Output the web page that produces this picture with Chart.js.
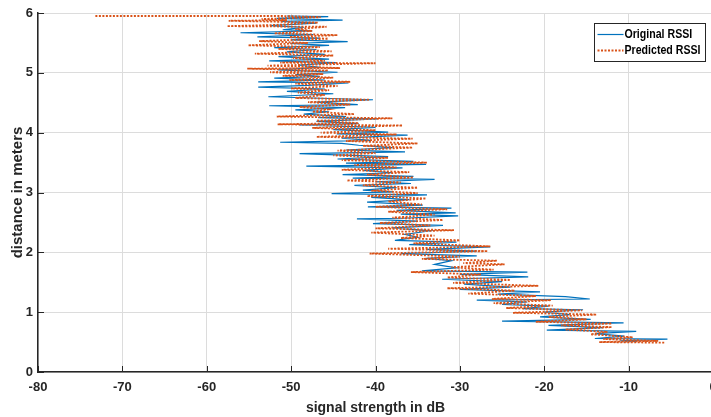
<!DOCTYPE html>
<html>
<head>
<meta charset="utf-8">
<title>RSSI vs distance</title>
<script src="https://cdn.jsdelivr.net/npm/chart.js@4.4.0/dist/chart.umd.min.js"></script>
<style>
  html, body { margin: 0; padding: 0; background: #fff; overflow: hidden; }
  #wrap { width: 720px; height: 417px; }
</style>
</head>
<body>
<div id="wrap"><canvas id="rssiChart" width="720" height="417"></canvas></div>
<script>
// Data (distance in m, RSSI in dB)
const seriesLabels = ['Original RSSI', 'Predicted RSSI'];

const originalDist = [
  5.95, 5.94, 5.91, 5.88, 5.86, 5.83, 5.79, 5.76, 5.72, 5.70,
  5.67, 5.64, 5.60, 5.58, 5.55, 5.52, 5.49, 5.46, 5.42, 5.39,
  5.35, 5.31, 5.27, 5.23, 5.20, 5.17, 5.13, 5.09, 5.05, 5.01,
  4.97, 4.94, 4.91, 4.88, 4.85, 4.83, 4.79, 4.76, 4.73, 4.69,
  4.65, 4.60, 4.55, 4.51, 4.47, 4.45, 4.42, 4.38, 4.35, 4.31,
  4.27, 4.25, 4.23, 4.19, 4.15, 4.13, 4.09, 4.05, 4.01, 3.98,
  3.96, 3.91, 3.87, 3.84, 3.82, 3.79, 3.75, 3.71, 3.68, 3.65,
  3.62, 3.60, 3.56, 3.52, 3.49, 3.47, 3.44, 3.41, 3.37, 3.33,
  3.30, 3.27, 3.24, 3.22, 3.18, 3.15, 3.12, 3.08, 3.04, 3.01,
  2.98, 2.96, 2.92, 2.88, 2.84, 2.79, 2.76, 2.74, 2.70, 2.66,
  2.64, 2.61, 2.57, 2.56, 2.52, 2.48, 2.45, 2.41, 2.36, 2.30,
  2.25, 2.20, 2.17, 2.13, 2.09, 2.05, 2.02, 1.98, 1.94, 1.90,
  1.86, 1.80, 1.74, 1.69, 1.67, 1.63, 1.59, 1.55, 1.51, 1.47,
  1.42, 1.38, 1.34, 1.30, 1.26, 1.22, 1.20, 1.17, 1.13, 1.10,
  1.06, 1.04, 1.00, 0.96, 0.92, 0.88, 0.85, 0.82, 0.78, 0.74,
  0.70, 0.68, 0.64, 0.60, 0.56, 0.55, 0.52, 0.51
];
const originalRssi = [
  -50.5, -45.6, -51.7, -43.9, -51.2, -47.0, -52.5, -48.5, -51.0, -47.5,
  -56.0, -47.4, -54.0, -46.6, -50.0, -43.3, -50.1, -45.5, -52.0, -47.0,
  -50.5, -46.0, -51.5, -45.5, -52.6, -44.7, -49.0, -46.5, -51.5, -44.5,
  -49.5, -46.6, -52.0, -46.0, -53.9, -43.2, -48.0, -53.9, -46.0, -50.5,
  -45.0, -52.7, -40.3, -47.0, -42.1, -52.6, -43.6, -49.5, -45.5, -48.5,
  -43.5, -46.8, -39.8, -47.0, -42.0, -49.0, -40.0, -45.0, -38.5, -44.6,
  -36.2, -44.0, -40.5, -51.3, -44.0, -42.0, -38.0, -43.5, -36.5, -49.0,
  -42.8, -38.5, -44.5, -35.5, -43.5, -34.0, -48.2, -36.8, -41.5, -38.0,
  -43.9, -35.5, -42.7, -33.0, -40.0, -35.8, -42.5, -37.5, -41.5, -38.0,
  -45.2, -33.9, -40.5, -36.0, -41.0, -34.4, -40.9, -31.0, -37.5, -30.5,
  -37.0, -30.2, -36.8, -42.2, -35.0, -40.3, -32.0, -38.0, -33.5, -36.5,
  -35.0, -37.7, -30.4, -36.0, -26.4, -34.0, -28.0, -37.0, -28.0, -34.0,
  -31.0, -33.0, -30.4, -34.5, -22.0, -30.0, -21.9, -32.1, -25.0, -29.5,
  -24.0, -30.0, -20.5, -25.5, -17.5, -14.6, -28.0, -22.0, -25.0, -19.5,
  -22.5, -15.4, -20.0, -17.0, -20.5, -14.5, -25.0, -10.6, -19.5, -13.0,
  -19.7, -9.1, -14.0, -10.5, -14.0, -5.4, -11.0, -9.0
];

const predictedDist = [
  5.95, 5.95, 5.93, 5.90, 5.88, 5.87, 5.84, 5.80, 5.78, 5.77,
  5.73, 5.70, 5.66, 5.63, 5.60, 5.57, 5.53, 5.50, 5.46, 5.43,
  5.40, 5.36, 5.32, 5.29, 5.25, 5.20, 5.17, 5.16, 5.12, 5.08,
  5.07, 5.04, 5.01, 4.98, 4.95, 4.92, 4.88, 4.85, 4.82, 4.78,
  4.74, 4.71, 4.67, 4.63, 4.58, 4.55, 4.51, 4.47, 4.43, 4.39,
  4.35, 4.31, 4.27, 4.24, 4.20, 4.16, 4.14, 4.12, 4.08, 4.04,
  4.00, 3.97, 3.93, 3.90, 3.86, 3.82, 3.78, 3.75, 3.70, 3.66,
  3.62, 3.58, 3.54, 3.50, 3.46, 3.42, 3.38, 3.34, 3.30, 3.25,
  3.20, 3.17, 3.12, 3.08, 3.03, 2.99, 2.94, 2.90, 2.85, 2.80,
  2.76, 2.72, 2.68, 2.63, 2.58, 2.54, 2.49, 2.45, 2.40, 2.37,
  2.33, 2.28, 2.24, 2.20, 2.15, 2.10, 2.06, 2.02, 1.98, 1.93,
  1.89, 1.86, 1.82, 1.80, 1.75, 1.71, 1.67, 1.63, 1.58, 1.54,
  1.49, 1.44, 1.40, 1.36, 1.31, 1.27, 1.22, 1.20, 1.15, 1.11,
  1.07, 1.03, 0.99, 0.96, 0.92, 0.88, 0.84, 0.81, 0.78, 0.75,
  0.71, 0.67, 0.63, 0.58, 0.55, 0.52, 0.50, 0.49
];
const predictedRssi = [
  -73.2, -51.0, -46.5, -53.5, -50.5, -57.4, -46.8, -52.0, -57.6, -45.8,
  -49.5, -47.5, -52.0, -44.5, -50.2, -45.6, -53.8, -48.0, -55.1, -46.6,
  -51.5, -45.2, -54.3, -45.0, -49.8, -46.0, -51.3, -40.0, -52.8, -44.2,
  -55.2, -45.6, -52.5, -46.2, -51.0, -45.0, -50.2, -43.0, -49.5, -44.5,
  -50.0, -45.5, -49.2, -46.0, -49.5, -40.7, -48.0, -43.0, -49.0, -45.6,
  -47.5, -42.5, -51.7, -38.0, -47.0, -42.0, -51.6, -36.8, -47.5, -40.0,
  -46.5, -37.5, -47.0, -35.6, -43.5, -35.0, -41.5, -35.6, -44.5, -40.0,
  -45.0, -38.5, -44.0, -33.9, -42.5, -37.5, -44.0, -36.0, -41.0, -35.5,
  -43.4, -37.0, -41.5, -35.0, -40.5, -35.0, -41.0, -34.0, -38.5, -34.5,
  -40.0, -31.5, -38.5, -33.0, -38.0, -32.0, -39.5, -33.5, -40.0, -30.7,
  -40.5, -33.0, -37.0, -30.0, -35.5, -26.4, -38.5, -26.7, -40.7, -30.0,
  -34.5, -25.6, -29.6, -24.7, -31.0, -26.0, -35.8, -27.5, -31.5, -24.0,
  -30.8, -20.7, -31.5, -23.5, -29.0, -21.0, -26.2, -19.2, -26.0, -19.0,
  -24.5, -15.5, -23.7, -13.8, -19.5, -15.0, -21.0, -12.0, -18.0, -12.0,
  -17.5, -12.5, -14.5, -9.5, -13.0, -6.5, -13.5, -5.7
];

const xTickStep = 10;
const yTickStep = 1;

const FONT = "'Liberation Sans', Arial, sans-serif";
const BLUE = '#0072bd';
const ORANGE = '#d95319';
const AXIS = '#262626';

function toPoints(xs, ys) {
  return xs.map((v, i) => ({ x: v, y: ys[i] }));
}

// MATLAB-style inward ticks and legend box inside the axes
const matlabDecor = {
  id: 'matlabDecor',
  afterDatasetsDraw(chart) {
    const { ctx, chartArea: a, scales } = chart;
    ctx.save();
    ctx.strokeStyle = AXIS;
    ctx.lineWidth = 1;
    ctx.beginPath();
    scales.x.ticks.forEach(t => {
      const px = Math.round(scales.x.getPixelForValue(t.value)) + 0.5;
      ctx.moveTo(px, a.bottom);
      ctx.lineTo(px, a.bottom - 6);
    });
    scales.y.ticks.forEach(t => {
      const py = Math.round(scales.y.getPixelForValue(t.value)) + 0.5;
      ctx.moveTo(a.left, py);
      ctx.lineTo(a.left + 6, py);
    });
    ctx.stroke();

    // legend
    const bx = 594.5, by = 23.5, bw = 111, bh = 38;
    ctx.fillStyle = '#fff';
    ctx.fillRect(bx, by, bw, bh);
    ctx.strokeStyle = AXIS;
    ctx.strokeRect(bx, by, bw, bh);

    const rows = [
      { label: seriesLabels[0], color: BLUE, dash: [], width: 1.2, y: by + 11 },
      { label: seriesLabels[1], color: ORANGE, dash: [2, 1.5], width: 1.8, y: by + 27 }
    ];
    ctx.font = 'bold 13px ' + FONT;
    ctx.textBaseline = 'middle';
    // squeeze text to the condensed look of the original
    const widest = Math.max(...rows.map(r => ctx.measureText(r.label).width));
    const squeeze = Math.min(1, 76 / widest);
    rows.forEach(r => {
      ctx.beginPath();
      ctx.setLineDash(r.dash);
      ctx.strokeStyle = r.color;
      ctx.lineWidth = r.width;
      ctx.moveTo(bx + 3, r.y);
      ctx.lineTo(bx + 29, r.y);
      ctx.stroke();
      ctx.setLineDash([]);
      ctx.fillStyle = '#000';
      ctx.save();
      ctx.translate(bx + 30, r.y);
      ctx.scale(squeeze, 1);
      ctx.fillText(r.label, 0, 0);
      ctx.restore();
    });
    ctx.restore();
  }
};

new Chart(document.getElementById('rssiChart'), {
  type: 'scatter',
  data: {
    datasets: [
      {
        label: seriesLabels[0],
        data: toPoints(originalRssi, originalDist),
        showLine: true,
        borderColor: BLUE,
        backgroundColor: BLUE,
        borderWidth: 1.2,
        pointRadius: 0,
        tension: 0,
        order: 2
      },
      {
        label: seriesLabels[1],
        data: toPoints(predictedRssi, predictedDist),
        showLine: true,
        borderColor: ORANGE,
        backgroundColor: ORANGE,
        borderWidth: 1.8,
        borderDash: [2, 1.5],
        pointRadius: 0,
        tension: 0,
        order: 1
      }
    ]
  },
  options: {
    responsive: false,
    animation: false,
    devicePixelRatio: 1,
    layout: { padding: { top: 13, right: 7, left: 0, bottom: 0 } },
    plugins: {
      legend: { display: false },
      tooltip: { enabled: false }
    },
    scales: {
      x: {
        type: 'linear',
        min: -80,
        max: 0,
        // fixed box; the right end of the axis runs past the window like the original
        afterFit: (s) => { s.height = 45; s.paddingLeft = 0; s.paddingRight = 0; },
        border: { display: true, color: AXIS, width: 1.5 },
        grid: { color: '#dcdcdc', drawTicks: false },
        ticks: {
          stepSize: xTickStep,
          padding: 8,
          color: AXIS,
          font: { family: FONT, size: 13, weight: 'bold' }
        },
        title: {
          display: true,
          text: 'signal strength in dB',
          color: AXIS,
          padding: { top: 0, bottom: 0 },
          font: { family: FONT, size: 14, weight: 'bold' }
        }
      },
      y: {
        type: 'linear',
        min: 0,
        max: 6,
        afterFit: (s) => { s.width = 38; },
        border: { display: true, color: AXIS, width: 1.5 },
        grid: { color: '#dcdcdc', drawTicks: false },
        ticks: {
          stepSize: yTickStep,
          padding: 5,
          color: AXIS,
          font: { family: FONT, size: 13, weight: 'bold' }
        },
        title: {
          display: true,
          text: 'distance in meters',
          color: AXIS,
          padding: { top: 9, bottom: 0 },
          font: { family: FONT, size: 15, weight: 'bold' }
        }
      }
    }
  },
  plugins: [matlabDecor]
});
</script>
</body>
</html>
